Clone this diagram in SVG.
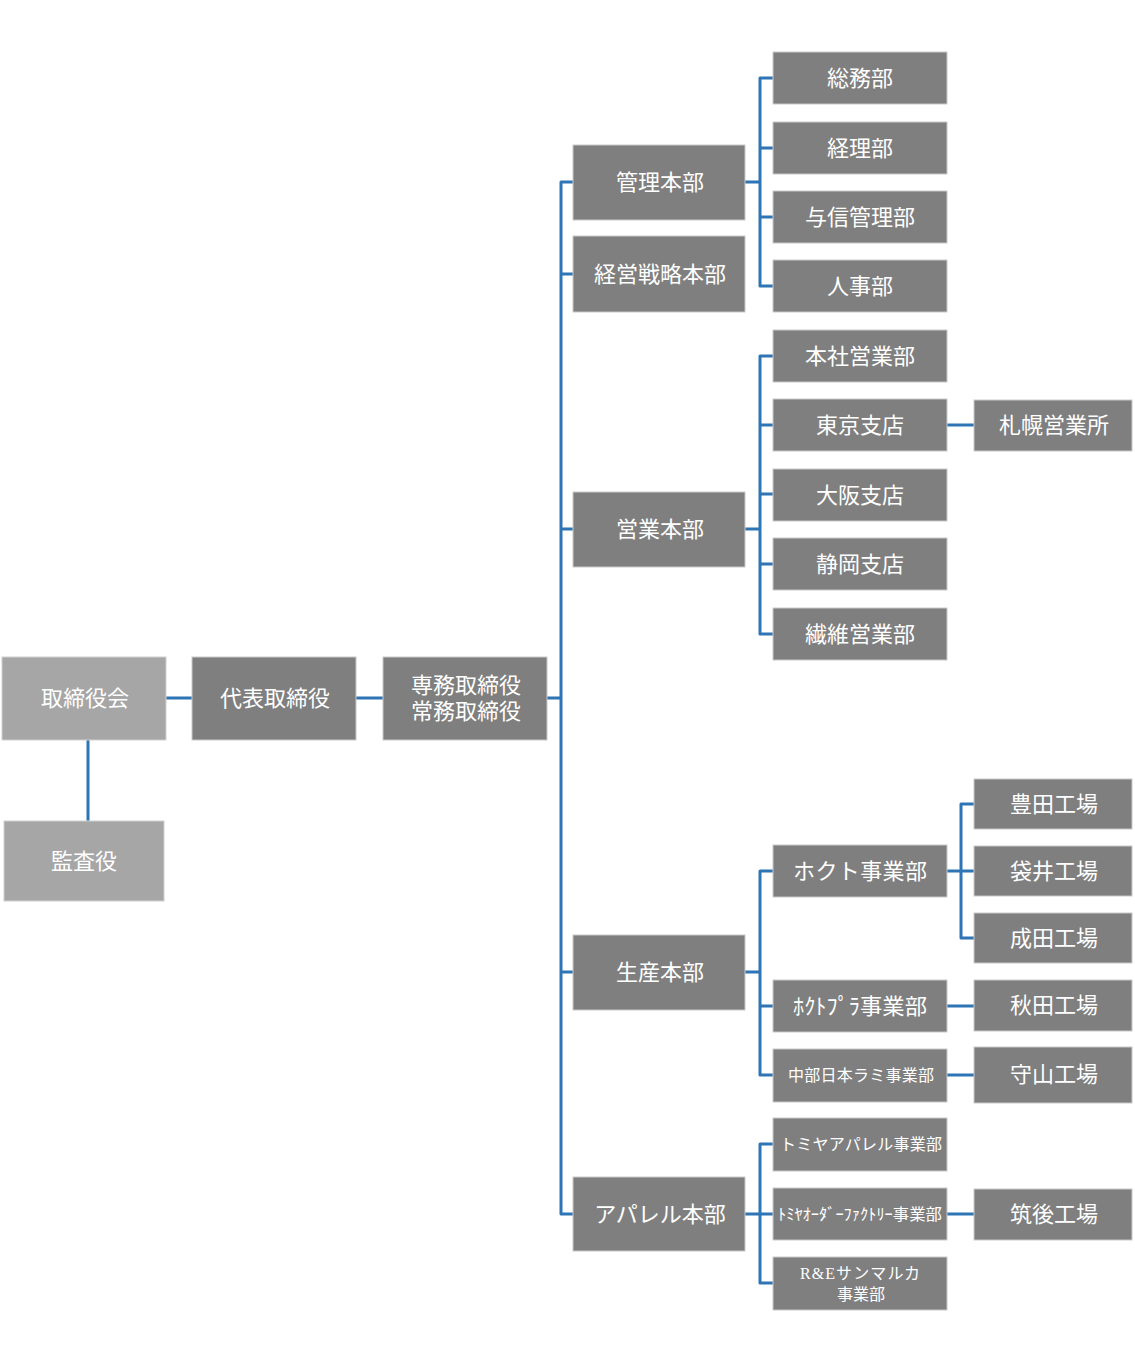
<svg xmlns="http://www.w3.org/2000/svg" width="1135" height="1364" viewBox="0 0 1135 1364">
<style>
.n rect{fill:#7f7f7f;stroke:#c9c9c9;stroke-width:1}
.l rect{fill:#a6a6a6;stroke:#d0d0d0;stroke-width:1}
text{fill:#ffffff;font-family:"Liberation Serif","Noto Sans CJK JP",serif;font-size:22px;text-anchor:middle;dominant-baseline:central}
.s{font-size:16px}
.c{fill:none;stroke:#2e75b6;stroke-width:3;stroke-linejoin:round}
</style>
<rect width="1135" height="1364" fill="#ffffff"/>
<g id="connectors" class="c">
<path d="M166 698H192M356 698H383M547 698H561"/>
<path d="M88 740V821"/>
<path d="M573 182H561V1214H573M561 274H573M561 529H573M561 972H573"/>
<path d="M745 182H760M773 78H760V286H773M760 148H773M760 217H773"/>
<path d="M745 529H760M773 356H760V634H773M760 425H773M760 494H773M760 564H773"/>
<path d="M947 425H974"/>
<path d="M745 972H760M773 871H760V1075H773M760 1006H773"/>
<path d="M947 871H974M974 804H961V938H974"/>
<path d="M947 1006H974M947 1075H974"/>
<path d="M745 1214H773M773 1144H760V1283H773"/>
<path d="M947 1214H974"/>
</g>
<g id="torishimariyakukai" class="l"><rect x="2" y="657" width="164" height="83"/><text x="85" y="698">取締役会</text></g>
<g id="kansayaku" class="l"><rect x="4" y="821" width="160" height="80"/><text x="84" y="861">監査役</text></g>
<g id="daihyo" class="n"><rect x="192" y="657" width="164" height="83"/><text x="275" y="698">代表取締役</text></g>
<g id="senmu" class="n"><rect x="383" y="657" width="164" height="83"/><text x="466" y="685">専務取締役</text><text x="466" y="711">常務取締役</text></g>
<g id="kanri" class="n"><rect x="573" y="145" width="172" height="75"/><text x="660" y="182">管理本部</text></g>
<g id="keiei" class="n"><rect x="573" y="236" width="172" height="76"/><text x="660" y="274">経営戦略本部</text></g>
<g id="eigyo" class="n"><rect x="573" y="492" width="172" height="75"/><text x="660" y="529">営業本部</text></g>
<g id="seisan" class="n"><rect x="573" y="935" width="172" height="75"/><text x="660" y="972">生産本部</text></g>
<g id="apparel" class="n"><rect x="573" y="1177" width="172" height="74"/><text x="660" y="1214">アパレル本部</text></g>
<g id="somu" class="n"><rect x="773" y="52" width="174" height="52"/><text x="860" y="78">総務部</text></g>
<g id="keiri" class="n"><rect x="773" y="122" width="174" height="52"/><text x="860" y="148">経理部</text></g>
<g id="yoshin" class="n"><rect x="773" y="191" width="174" height="52"/><text x="860" y="217">与信管理部</text></g>
<g id="jinji" class="n"><rect x="773" y="260" width="174" height="52"/><text x="860" y="286">人事部</text></g>
<g id="honsha" class="n"><rect x="773" y="330" width="174" height="52"/><text x="860" y="356">本社営業部</text></g>
<g id="tokyo" class="n"><rect x="773" y="399" width="174" height="52"/><text x="860" y="425">東京支店</text></g>
<g id="osaka" class="n"><rect x="773" y="469" width="174" height="52"/><text x="860" y="495">大阪支店</text></g>
<g id="shizuoka" class="n"><rect x="773" y="538" width="174" height="52"/><text x="860" y="564">静岡支店</text></g>
<g id="seni" class="n"><rect x="773" y="608" width="174" height="52"/><text x="860" y="634">繊維営業部</text></g>
<g id="hokuto" class="n"><rect x="773" y="845" width="174" height="52"/><text x="860" y="871" textLength="134" lengthAdjust="spacing">ホクト事業部</text></g>
<g id="hokutopura" class="n"><rect x="773" y="980" width="174" height="52"/><text x="860" y="1006" textLength="134" lengthAdjust="spacingAndGlyphs">ﾎｸﾄﾌﾟﾗ事業部</text></g>
<g id="chubu" class="n"><rect x="773" y="1049" width="174" height="53"/><text class="s" x="861" y="1075" textLength="146" lengthAdjust="spacing">中部日本ラミ事業部</text></g>
<g id="tomiya" class="n"><rect x="773" y="1118" width="174" height="53"/><text class="s" x="861" y="1144" textLength="162" lengthAdjust="spacing">トミヤアパレル事業部</text></g>
<g id="tomiyaorder" class="n"><rect x="773" y="1188" width="174" height="52"/><text class="s" x="860" y="1214" textLength="164" lengthAdjust="spacingAndGlyphs">ﾄﾐﾔｵｰﾀﾞｰﾌｧｸﾄﾘｰ事業部</text></g>
<g id="sanmaruka" class="n"><rect x="773" y="1257" width="174" height="53"/><text class="s" x="860" y="1273" textLength="120" lengthAdjust="spacing">R&amp;Eサンマルカ</text><text class="s" x="861" y="1294">事業部</text></g>
<g id="sapporo" class="n"><rect x="974" y="400" width="158" height="51"/><text x="1054" y="425">札幌営業所</text></g>
<g id="toyota" class="n"><rect x="974" y="779" width="158" height="50"/><text x="1054" y="804">豊田工場</text></g>
<g id="fukuroi" class="n"><rect x="974" y="846" width="158" height="50"/><text x="1054" y="871">袋井工場</text></g>
<g id="narita" class="n"><rect x="974" y="913" width="158" height="50"/><text x="1054" y="938">成田工場</text></g>
<g id="akita" class="n"><rect x="974" y="980" width="158" height="51"/><text x="1054" y="1005">秋田工場</text></g>
<g id="moriyama" class="n"><rect x="974" y="1047" width="158" height="56"/><text x="1054" y="1074">守山工場</text></g>
<g id="chikugo" class="n"><rect x="974" y="1189" width="158" height="51"/><text x="1054" y="1214">筑後工場</text></g>
</svg>
